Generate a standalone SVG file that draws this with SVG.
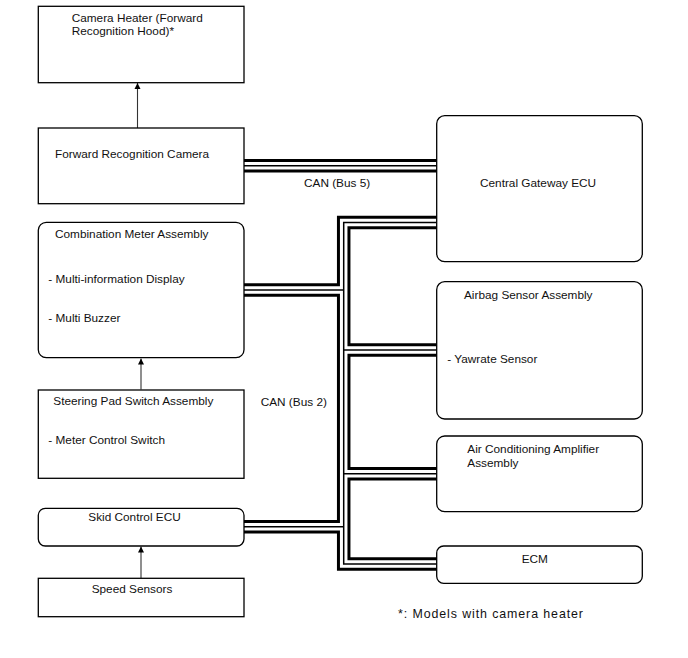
<svg xmlns="http://www.w3.org/2000/svg" width="688" height="658" viewBox="0 0 688 658">
<style>
.box{fill:#fff;stroke:#000;stroke-width:1.3}
.t{font-family:"Liberation Sans",Arial,sans-serif;font-size:11.8px;fill:#111}
.b1{fill:none;stroke:#000;stroke-width:13.5;stroke-linejoin:miter}
.b2{fill:none;stroke:#fff;stroke-width:7.5;stroke-linejoin:miter}
.b3{fill:none;stroke:#000;stroke-width:1.5;stroke-linejoin:miter}
.arr{stroke:#333;stroke-width:1.1;fill:none}
</style>
<defs>
<marker id="ah" viewBox="0 0 10 10" refX="10" refY="5" markerWidth="6" markerHeight="10" markerUnits="userSpaceOnUse" orient="auto">
<path d="M0,0 L10,5 L0,10 Z" fill="#000"/>
</marker>
</defs>
<rect width="688" height="658" fill="#fff"/>
<g id="connectors">
<g id="bus-layers">
<g class="b1">
<path d="M244,165.8H437"/>
<path d="M437,222.5H343.7V564H437"/>
<path d="M244,290H343.7"/>
<path d="M343.7,350H437"/>
<path d="M343.7,473.7H437"/>
<path d="M244,526.7H343.7"/>
</g>
<g class="b2">
<path d="M244,165.8H437"/>
<path d="M437,222.5H343.7V564H437"/>
<path d="M244,290H343.7"/>
<path d="M343.7,350H437"/>
<path d="M343.7,473.7H437"/>
<path d="M244,526.7H343.7"/>
</g>
<g class="b3">
<path d="M244,165.8H437"/>
<path d="M437,222.5H343.7V564H437"/>
<path d="M244,290H343.7"/>
<path d="M343.7,350H437"/>
<path d="M343.7,473.7H437"/>
<path d="M244,526.7H343.7"/>
</g>
</g>
<line class="arr" x1="137.5" y1="128" x2="137.5" y2="83" marker-end="url(#ah)"/>
<line class="arr" x1="141" y1="389.5" x2="141" y2="358.5" marker-end="url(#ah)"/>
<line class="arr" x1="141" y1="578" x2="141" y2="546.5" marker-end="url(#ah)"/>
<text class="t" x="304" y="186.7">CAN (Bus 5)</text>
<text class="t" x="260.7" y="406">CAN (Bus 2)</text>
</g>
<g id="camera-heater">
<rect class="box" x="38.3" y="6.3" width="205.7" height="76.4"/>
<text class="t" x="71.7" y="21.7">Camera Heater (Forward</text>
<text class="t" x="71.7" y="35">Recognition Hood)*</text>
</g>
<g id="forward-camera">
<rect class="box" x="38.3" y="128" width="205.7" height="75.7"/>
<text class="t" x="55" y="158">Forward Recognition Camera</text>
</g>
<g id="central-gateway">
<rect class="box" x="436.7" y="115.7" width="205.6" height="146" rx="8"/>
<text class="t" x="480" y="187.3">Central Gateway ECU</text>
</g>
<g id="combination-meter">
<rect class="box" x="38.3" y="222.3" width="205.7" height="135.4" rx="8"/>
<text class="t" x="55" y="237.7">Combination Meter Assembly</text>
<text class="t" x="48.3" y="282.7">- Multi-information Display</text>
<text class="t" x="48.3" y="322.3">- Multi Buzzer</text>
</g>
<g id="steering-pad">
<rect class="box" x="38.3" y="390" width="205.7" height="88.3"/>
<text class="t" x="53.3" y="405">Steering Pad Switch Assembly</text>
<text class="t" x="48.3" y="444.3">- Meter Control Switch</text>
</g>
<g id="skid-control">
<rect class="box" x="38.3" y="508.3" width="205.7" height="37.7" rx="7"/>
<text class="t" x="88.3" y="520.7">Skid Control ECU</text>
</g>
<g id="speed-sensors">
<rect class="box" x="38.3" y="578.3" width="205.7" height="38.4"/>
<text class="t" x="91.7" y="592.7">Speed Sensors</text>
</g>
<g id="airbag">
<rect class="box" x="436.7" y="281.7" width="205.6" height="137.3" rx="8"/>
<text class="t" x="464" y="299.3">Airbag Sensor Assembly</text>
<text class="t" x="447.3" y="362.7">- Yawrate Sensor</text>
</g>
<g id="air-conditioning">
<rect class="box" x="436.7" y="436" width="205.6" height="75.7" rx="8"/>
<text class="t" x="467.3" y="453.3">Air Conditioning Amplifier</text>
<text class="t" x="467.3" y="466.7">Assembly</text>
</g>
<g id="ecm">
<rect class="box" x="436.7" y="546" width="205.6" height="37.3" rx="7"/>
<text class="t" x="521.7" y="563.3">ECM</text>
</g>
<g id="footnote">
<text class="t" x="398" y="618" style="font-size:12.4px" textLength="185" lengthAdjust="spacing">*: Models with camera heater</text>
</g>
</svg>
